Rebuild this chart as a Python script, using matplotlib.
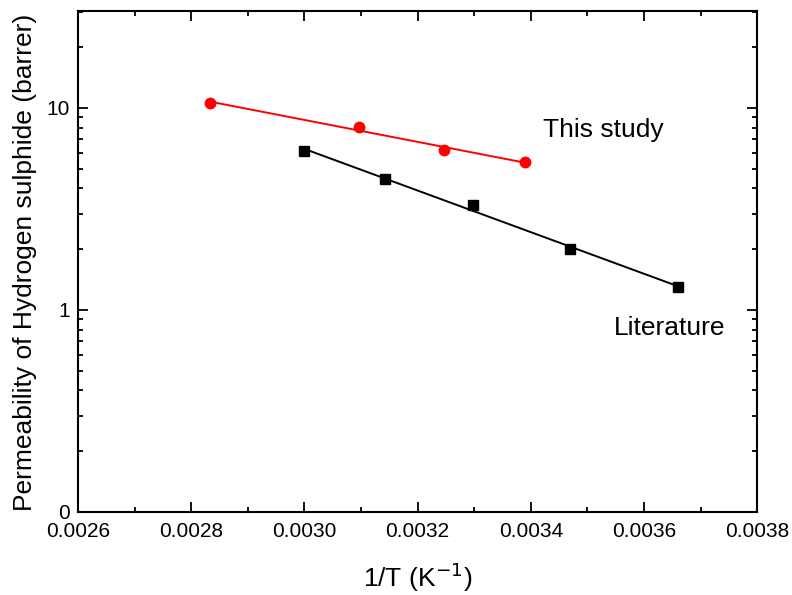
import numpy as np
import matplotlib
matplotlib.use("Agg")
import matplotlib.pyplot as plt
from matplotlib.ticker import LogLocator, NullFormatter, MultipleLocator

plt.rcParams['font.family'] = ['Liberation Sans', 'DejaVu Sans']

# data
study_x = [0.002833, 0.003096, 0.003247, 0.003390]
study_y = [10.6, 8.08, 6.2, 5.38]
lit_x = [0.003000, 0.003143, 0.003298, 0.003470, 0.003660]
lit_y = [6.12, 4.45, 3.30, 2.00, 1.30]

ytick_vals = [0.1, 1, 10]
ytick_labels = ['0', '1', '10']


def fit_line(x, y):
    # straight line in log space (Arrhenius fit), drawn over the data range
    p = np.polyfit(x, np.log10(y), 1)
    xs = np.array([min(x), max(x)])
    return xs, 10 ** np.polyval(p, xs)


fig = plt.figure(figsize=(7.92, 5.95), dpi=100)
ax = fig.add_axes([0.0985, 0.1395, 0.8575, 0.842])

fx, fy = fit_line(study_x, study_y)
ax.plot(fx, fy, color='red', lw=1.4)
ax.plot(study_x, study_y, 'o', color='red', ms=7.5, mec='red')

fx, fy = fit_line(lit_x, lit_y)
ax.plot(fx, fy, color='black', lw=1.4)
ax.plot(lit_x, lit_y, 's', color='black', ms=7)

ax.set_yscale('log')
ax.set_xlim(0.0026, 0.0038)
ax.set_ylim(0.1, 30.2)

xt = np.arange(0.0026, 0.00381, 0.0002)
ax.set_xticks(xt)
ax.set_xticklabels(['%.4f' % v for v in xt])
ax.xaxis.set_minor_locator(MultipleLocator(0.0001))

ax.set_yticks(ytick_vals, labels=ytick_labels)
ax.yaxis.set_minor_locator(LogLocator(base=10, subs=np.arange(2, 10)))
ax.yaxis.set_minor_formatter(NullFormatter())

ax.tick_params(which='both', direction='in', top=True, right=True, width=1.3)
ax.tick_params(which='major', length=7, labelsize=15, pad=6)
ax.tick_params(axis='x', which='major', pad=7)
ax.tick_params(which='minor', length=3.5)
for s in ax.spines.values():
    s.set_linewidth(1.5)

ax.set_xlabel('1/T (K$^{-1}$)', fontsize=19, labelpad=14)
ax.set_ylabel('Permeability of Hydrogen sulphide (barrer)', fontsize=19)
ax.yaxis.set_label_coords(-0.061, 0.498)

ax.text(0.003422, 7.8, 'This study', fontsize=19, ha='left', va='center')
ax.text(0.003546, 0.815, 'Literature', fontsize=19, ha='left', va='center')

fig.savefig('out.png', dpi=100)
